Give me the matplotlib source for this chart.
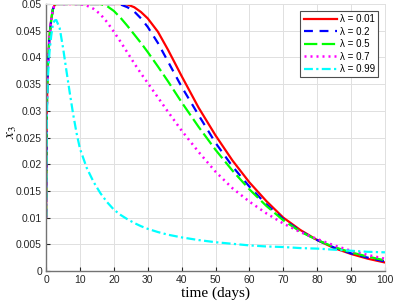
import numpy as np
import matplotlib
matplotlib.use('Agg')
import matplotlib.pyplot as plt

# DATOS
t = [0, 0.2, 0.5, 1, 1.5, 2, 2.5, 3, 4, 5, 6, 7, 8, 9, 10, 12, 14, 16, 18, 20,
     22, 24, 26, 28, 30, 33, 36, 40, 45, 50, 55, 60, 65, 70, 75, 80, 85, 90, 95, 100]

x3_001 = [0.01, 0.03, 0.038, 0.044, 0.047, 0.049, 0.0498, 0.05, 0.05, 0.05, 0.05, 0.05, 0.05,
          0.05, 0.05, 0.05, 0.05, 0.05, 0.05, 0.05, 0.05, 0.0499, 0.0494, 0.0485, 0.0473, 0.0448,
          0.0414, 0.0365, 0.0306, 0.0254, 0.0207, 0.0166, 0.0131, 0.0100, 0.0077, 0.0058, 0.0043,
          0.0032, 0.0023, 0.0016]
x3_02 = [0.01, 0.03, 0.038, 0.044, 0.047, 0.049, 0.0498, 0.05, 0.05, 0.05, 0.05, 0.05, 0.05,
         0.05, 0.05, 0.05, 0.05, 0.05, 0.05, 0.05, 0.0499, 0.0494, 0.0486, 0.0473, 0.0457, 0.0427,
         0.0392, 0.0345, 0.0292, 0.0240, 0.0196, 0.0158, 0.0125, 0.0097, 0.0075, 0.0058, 0.0044,
         0.0033, 0.0025, 0.0018]
x3_05 = [0.01, 0.03, 0.038, 0.044, 0.047, 0.049, 0.0498, 0.05, 0.05, 0.05, 0.05, 0.05, 0.05,
         0.05, 0.05, 0.05, 0.05, 0.05, 0.0496, 0.0487, 0.0474, 0.0459, 0.0443, 0.0427, 0.0410,
         0.0383, 0.0355, 0.0316, 0.0270, 0.0227, 0.0188, 0.0153, 0.0122, 0.0095, 0.0074, 0.0058,
         0.0045, 0.0035, 0.0027, 0.0020]
x3_07 = [0.01, 0.03, 0.038, 0.044, 0.047, 0.049, 0.0498, 0.05, 0.05, 0.05, 0.05, 0.05, 0.05,
         0.05, 0.05, 0.0497, 0.0491, 0.0481, 0.0466, 0.0448, 0.0429, 0.0409, 0.0389, 0.0370,
         0.0352, 0.0325, 0.0298, 0.0263, 0.0223, 0.0186, 0.0155, 0.0130, 0.0108, 0.0089, 0.0073,
         0.0060, 0.0048, 0.0038, 0.0030, 0.0023]
x3_099 = [0.01, 0.028, 0.036, 0.041, 0.044, 0.0462, 0.0469, 0.047, 0.0455, 0.0418, 0.0375, 0.0333,
          0.0293, 0.0258, 0.0229, 0.0193, 0.0167, 0.0146, 0.0129, 0.0115, 0.0105, 0.0097, 0.009,
          0.0084, 0.0079, 0.0073, 0.0068, 0.0063, 0.0058, 0.0054, 0.0051, 0.0048, 0.0046, 0.0045,
          0.0043, 0.0042, 0.004, 0.0038, 0.0036, 0.0035]

etiquetas = ['λ = 0.01', 'λ = 0.2', 'λ = 0.5', 'λ = 0.7', 'λ = 0.99']
xticks = np.arange(0, 101, 10)
yticks = np.arange(0, 0.0501, 0.005)
yticklabels = ['0', '0.005', '0.01', '0.015', '0.02', '0.025', '0.03', '0.035', '0.04', '0.045', '0.05']

# GRAFICANDO
plt.rcParams['font.family'] = ['Liberation Sans', 'DejaVu Sans']
plt.rcParams['mathtext.fontset'] = 'stix'

fig = plt.figure(figsize=(3.94, 3.08), dpi=100)
ax = fig.add_axes([0.117, 0.12, 0.86, 0.867])

ax.plot(t, x3_001, color=(1, 0, 0), lw=1.6, label=etiquetas[0])
ax.plot(t, x3_02, color=(0, 0, 1), lw=1.6, dashes=(4, 3), label=etiquetas[1])
ax.plot(t, x3_05, color=(0, 1, 0), lw=1.6, dashes=(6, 2), label=etiquetas[2])
ax.plot(t, x3_07, color=(1, 0, 1), lw=1.8, dashes=(0.8, 1.6), label=etiquetas[3])
ax.plot(t, x3_099, color=(0, 1, 1), lw=1.6, dashes=(4, 1.5, 1, 1.5), label=etiquetas[4])

ax.set_xlim(0, 100)
ax.set_ylim(0, 0.05)
ax.set_xticks(xticks)
ax.set_yticks(yticks)
ax.set_yticklabels(yticklabels)
ax.tick_params(direction='in', length=3, labelsize=7.5, colors='0.15', pad=3)
ax.grid(True, color='0.88', lw=0.7)

for s in ['left', 'bottom']:
    ax.spines[s].set_color('0.45')
    ax.spines[s].set_linewidth(1.0)
for s in ['top', 'right']:
    ax.spines[s].set_color('0.88')
    ax.spines[s].set_linewidth(0.7)

ax.set_xlabel('time (days)', family='Liberation Serif', fontsize=11, labelpad=1)
ax.set_ylabel('$x_3$', fontsize=11)
ax.yaxis.set_label_coords(-0.08, 0.52)

leg = ax.legend(loc='upper right', fontsize=7, handlelength=3.4, fancybox=False,
                framealpha=1, edgecolor='0.3', borderpad=0.35, labelspacing=0.25,
                handletextpad=0.3, borderaxespad=0.7)
leg.get_frame().set_linewidth(0.8)

plt.savefig('out.png', dpi=100)
